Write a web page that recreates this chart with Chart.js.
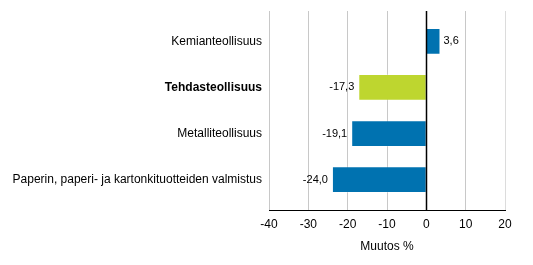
<!DOCTYPE html>
<html>
<head>
<meta charset="utf-8">
<script src="https://cdn.jsdelivr.net/npm/chart.js@4/dist/chart.umd.min.js"></script>
<style>
  html, body { margin: 0; padding: 0; background: #fff; }
  #wrap { width: 533px; height: 265px; }
</style>
</head>
<body>
<div id="wrap"><canvas id="chart"></canvas></div>
<script>
// categories and values (muutos %)
const categories = [
    'Kemianteollisuus',
    'Tehdasteollisuus',
    'Metalliteollisuus',
    'Paperin, paperi- ja kartonkituotteiden valmistus'
];
const values = [3.6, -17.3, -19.1, -24.0];
const barColors = ['#0072b0', '#bed62f', '#0072b0', '#0072b0'];
const xTicks = [-40, -30, -20, -10, 0, 10, 20];
const boldIndex = 1;

const fontFamily = '"Liberation Sans", Arial, sans-serif';

// value labels beside the bars + zero line on top
const valueLabels = {
    id: 'valueLabels',
    afterDatasetsDraw(chart) {
        const ctx = chart.ctx;
        const xs = chart.scales.x;
        const area = chart.chartArea;
        const zx = Math.round(xs.getPixelForValue(0)) + 0.5;
        ctx.save();
        ctx.strokeStyle = '#000';
        ctx.lineWidth = 1.5;
        ctx.beginPath();
        ctx.moveTo(zx, area.top);
        ctx.lineTo(zx, area.bottom);
        ctx.stroke();

        ctx.font = '11px ' + fontFamily;
        ctx.fillStyle = '#000';
        ctx.textBaseline = 'middle';
        chart.getDatasetMeta(0).data.forEach((bar, i) => {
            const v = values[i];
            const txt = v.toFixed(1).replace('.', ',');
            if (v >= 0) {
                ctx.textAlign = 'left';
                ctx.fillText(txt, bar.x + 3, bar.y);
            } else {
                ctx.textAlign = 'right';
                ctx.fillText(txt, bar.x - 4, bar.y);
            }
        });
        ctx.restore();
    }
};

new Chart(document.getElementById('chart'), {
    type: 'bar',
    data: {
        datasets: [{
            data: values.map((v, i) => ({ x: v, y: i })),
            backgroundColor: barColors,
            borderColor: 'rgba(255,255,255,0.25)',
            borderWidth: 1,
            borderSkipped: 'start',
            barPercentage: 0.58,
            categoryPercentage: 1
        }]
    },
    options: {
        indexAxis: 'y',
        responsive: true,
        maintainAspectRatio: false,
        animation: false,
        layout: { padding: { top: 11, right: 28, bottom: 0, left: 0 } },
        plugins: {
            legend: { display: false },
            tooltip: { enabled: false }
        },
        scales: {
            x: {
                type: 'linear',
                min: -40,
                max: 20,
                afterBuildTicks: s => { s.ticks = xTicks.map(v => ({ value: v })); },
                afterFit: s => { s.height = 55; },
                border: { display: true, color: '#000', width: 1 },
                grid: {
                    drawTicks: false,
                    color: c => (c.tick && c.tick.value === 20) ? '#dcdcdc' : '#c8c8c8'
                },
                ticks: {
                    padding: 7,
                    color: '#000',
                    font: { family: fontFamily, size: 12 }
                },
                title: {
                    display: true,
                    text: 'Muutos %',
                    color: '#000',
                    font: { family: fontFamily, size: 12 },
                    padding: { top: 0, bottom: 11 }
                }
            },
            y: {
                type: 'linear',
                reverse: true,
                offset: false,
                min: -0.66,
                max: 3.66,
                afterBuildTicks: s => { s.ticks = categories.map((c, i) => ({ value: i })); },
                afterFit: s => { s.width = 269; s.paddingTop = 0; s.paddingBottom = 0; },
                border: { display: false },
                grid: { display: false, drawTicks: false, offset: false },
                ticks: {
                    padding: 7,
                    color: '#000',
                    callback: v => categories[v],
                    font: c => ({
                        family: fontFamily,
                        size: 12,
                        weight: c.index === boldIndex ? 'bold' : 'normal'
                    })
                }
            }
        }
    },
    plugins: [valueLabels]
});
</script>
</body>
</html>
